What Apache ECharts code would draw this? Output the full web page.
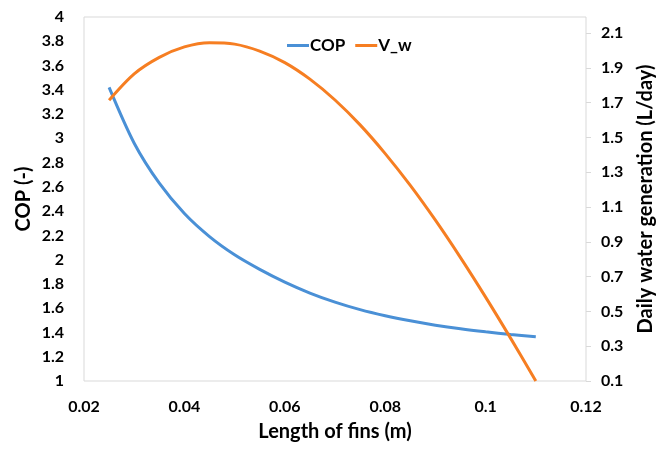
<!DOCTYPE html>
<html>
<head>
    <meta charset="utf-8">
    <title>COP and water generation vs fin length</title>
    <script src="https://cdn.jsdelivr.net/npm/echarts@6/dist/echarts.min.js"></script>
</head>
<body style="margin:0px;background-color:#ffffff;">
    <div id="main" style="width:664px;height:452px;"></div>
    <script type="text/javascript">
        // fin length (m)
        var finLength = [0.025, 0.03, 0.035, 0.04, 0.045, 0.05, 0.055, 0.06, 0.065,
                         0.07, 0.075, 0.08, 0.085, 0.09, 0.095, 0.1, 0.105, 0.11];
        // COP (-), left axis
        var cop = [3.42, 2.96, 2.63, 2.38, 2.19, 2.04, 1.92, 1.815, 1.725,
                   1.65, 1.588, 1.538, 1.496, 1.46, 1.43, 1.405, 1.383, 1.364];
        // daily water generation (L/day), right axis
        var waterGen = [1.714, 1.865, 1.96, 2.02, 2.044, 2.036, 1.996, 1.93, 1.835,
                        1.715, 1.572, 1.407, 1.224, 1.024, 0.809, 0.582, 0.345, 0.1];
        // right axis tick labels
        var rightTicks = [0.1, 0.3, 0.5, 0.7, 0.9, 1.1, 1.3, 1.5, 1.7, 1.9, 2.1];

        function pairs(xs, ys) {
            var out = [];
            for (var i = 0; i < xs.length; i++) {
                out.push([xs[i], ys[i]]);
            }
            return out;
        }

        var fontName = 'Lato';
        var labelStyle = { fontFamily: fontName, fontWeight: 'bold', fontSize: 16, color: '#000' };
        var nameStyle = { fontFamily: fontName, fontWeight: 'bold', fontSize: 20, color: '#000' };

        var myChart = echarts.init(document.getElementById('main'), null, { renderer: 'canvas' });

        var option = {
            animation: false,
            backgroundColor: '#ffffff',
            grid: {
                left: 84, right: 75, top: 17, bottom: 71,
                show: true, borderColor: '#d9d9d9', borderWidth: 1
            },
            legend: {
                left: 282, top: 32,
                icon: 'rect', itemWidth: 22, itemHeight: 3, itemGap: 10,
                textStyle: { fontFamily: fontName, fontWeight: 'bold', fontSize: 17, color: '#000', padding: [0, 0, 0, -4] },
                data: ['COP', 'V_w']
            },
            xAxis: {
                type: 'value', min: 0.02, max: 0.12, interval: 0.02,
                name: 'Length of fins (m)', nameLocation: 'middle', nameGap: 41,
                nameTextStyle: nameStyle,
                axisLine: { show: false },
                axisTick: { show: false },
                splitLine: { show: false },
                axisLabel: Object.assign({ margin: 18, formatter: function (v) { return String(parseFloat(v.toFixed(2))); } }, labelStyle)
            },
            yAxis: [{
                type: 'value', min: 1, max: 4, interval: 0.2,
                name: 'COP (-)', nameLocation: 'middle', nameGap: 50, nameMoveOverlap: false,
                nameTextStyle: nameStyle,
                axisLine: { show: false },
                axisTick: { show: false },
                splitLine: { show: false },
                axisLabel: Object.assign({ margin: 20, formatter: function (v) { return String(parseFloat(v.toFixed(1))); } }, labelStyle)
            }, {
                type: 'value', min: 0.1, max: 2.192, position: 'right',
                name: 'Daily water generation (L/day)', nameLocation: 'middle', nameGap: 50,
                nameTextStyle: nameStyle,
                axisLine: { show: false },
                axisTick: { show: true, length: 5, customValues: rightTicks, lineStyle: { color: '#d9d9d9' } },
                splitLine: { show: false },
                axisLabel: Object.assign({ margin: 15, customValues: rightTicks, formatter: function (v) { return v.toFixed(1); } }, labelStyle)
            }],
            series: [{
                name: 'COP', type: 'line', yAxisIndex: 0,
                data: pairs(finLength, cop),
                smooth: 0.3, showSymbol: false, symbol: 'none',
                lineStyle: { color: '#4a90d6', width: 3 },
                itemStyle: { color: '#4a90d6' }
            }, {
                name: 'V_w', type: 'line', yAxisIndex: 1,
                data: pairs(finLength, waterGen),
                smooth: 0.3, showSymbol: false, symbol: 'none',
                lineStyle: { color: '#f67e22', width: 3 },
                itemStyle: { color: '#f67e22' }
            }]
        };
        myChart.setOption(option);
    </script>
</body>
</html>
